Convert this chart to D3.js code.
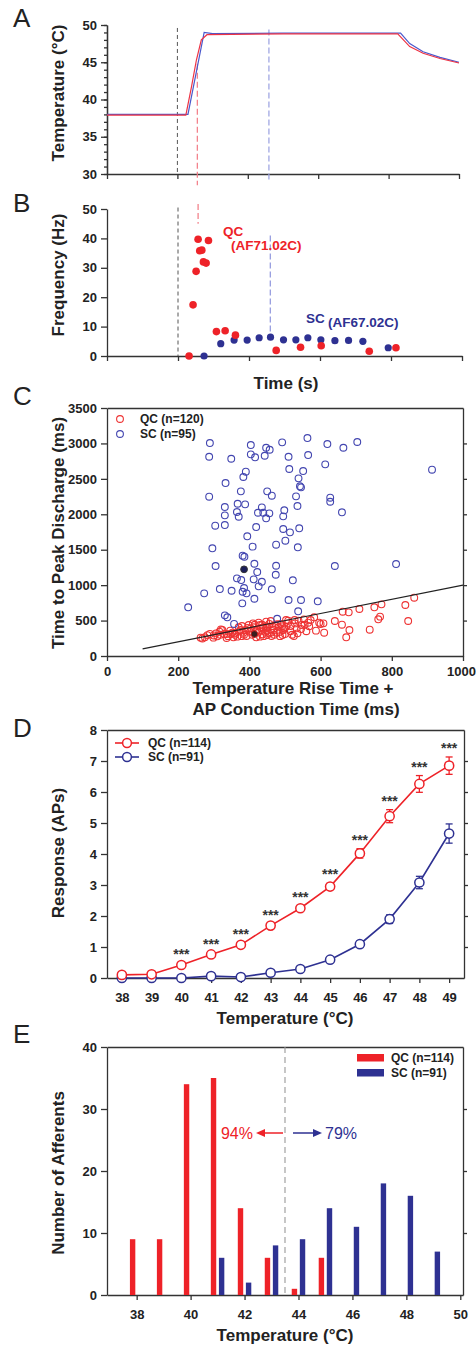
<!DOCTYPE html>
<html>
<head>
<meta charset="utf-8">
<script src="https://cdn.jsdelivr.net/npm/d3@7"></script>
<style>
body { margin: 0; background: #fff; }
svg { display: block; font-family: "Liberation Sans", Arial, sans-serif; }
.axis text { font-size: 13px; font-weight: bold; fill: #222; font-family: "Liberation Sans", Arial, sans-serif; }
.axis path, .axis line { stroke: #333; stroke-width: 1.3; }
.title { font-size: 17px; font-weight: bold; fill: #222; }
.letter { font-size: 26px; fill: #222; }
.leg { font-size: 12px; font-weight: bold; fill: #222; }
</style>
</head>
<body>
<script>
// ---- panel A: stimulus temperature traces (time in arbitrary units 0..5)
const traceTimeSC = [0, 1.15, 1.38, 1.5, 2.5, 3.5, 4.17, 4.3, 4.49, 4.73, 5];
const traceTempSC = [38, 38, 49, 48.85, 48.9, 48.9, 48.9, 47.5, 46.4, 45.65, 45];
const traceTimeQC = [0, 1.12, 1.2, 1.27, 1.34, 1.42, 2.5, 3.5, 4.13, 4.3, 4.49, 4.73, 5];
const traceTempQC = [37.9, 37.9, 41.7, 45.3, 48, 48.7, 48.8, 48.8, 48.8, 47.1, 46.2, 45.5, 44.9];
const onsetTime = 1.0, qcPeakTime = 1.283, scPeakTime = 2.3;

// ---- panel B: instantaneous frequency
const qcSpikeTime = [1.156, 1.212, 1.255, 1.283, 1.306, 1.335, 1.358, 1.396, 1.429, 1.541, 1.664, 1.809, 2.383, 2.726, 3.017, 3.694, 4.07];
const qcSpikeFreq = [0, 17.4, 28.8, 39.7, 35.8, 36.0, 32.0, 31.6, 39.3, 8.3, 8.6, 7.1, 1.9, 3.0, 3.5, 1.6, 2.8];
const scSpikeTime = [1.367, 1.602, 1.79, 1.974, 2.143, 2.303, 2.486, 2.66, 2.829, 3.012, 3.21, 3.402, 3.604, 3.961];
const scSpikeFreq = [0, 4.2, 5.4, 5.4, 6.2, 6.4, 5.5, 5.5, 6.2, 5.5, 5.2, 5.3, 5.0, 2.8];

// ---- panel C: time to peak discharge vs rise + conduction time (ms)
const scRise = [289, 287, 349, 404, 404, 416, 447, 457, 443, 492, 510, 563, 565, 619, 613, 512, 551, 390, 383, 538,
  542, 545, 333, 287, 376, 450, 463, 531, 535, 331, 367, 388, 435, 331, 365, 370, 424, 439, 447, 456,
  498, 495, 304, 331, 419, 495, 514, 540, 394, 501, 296, 409, 475, 536, 381, 386, 305, 414, 422, 475,
  474, 365, 377, 412, 435, 426, 317, 350, 385, 381, 392, 463, 522, 273, 414, 380, 510, 545, 592, 228,
  331, 338, 537, 478, 357, 640, 812, 664, 703, 913, 627, 627, 660];
const scPeak = [3005, 2812, 2784, 2977, 2846, 2804, 2939, 2911, 2826, 3015, 2812, 3076, 2836, 2991, 2705, 2639, 2610, 2601, 2526, 2507,
  2395, 2380, 2441, 2248, 2324, 2324, 2262, 2253, 2117, 2102, 2149, 2140, 2098, 1985, 2032, 1965, 2022, 2022, 1943, 2013,
  2056, 1971, 1839, 1848, 1820, 1792, 1745, 1802, 1689, 1627, 1520, 1543, 1571, 1534, 1416, 1400, 1270, 1302, 1185, 1274,
  1147, 1096, 1072, 1082, 1048, 983, 945, 921, 959, 907, 884, 941, 1068, 884, 808, 743, 790, 790, 772, 687,
  574, 546, 631, 526, 452, 1270, 1298, 2939, 3020, 2629, 2234, 2177, 2028];
const qcRise = [263, 275, 289, 299, 306, 310, 316, 320, 324, 329, 336, 336, 346, 347, 355, 359, 366, 370, 375, 379,
  383, 389, 392, 398, 402, 404, 412, 419, 422, 426, 430, 430, 437, 439, 445, 447, 450, 450, 456, 460,
  462, 469, 473, 477, 482, 488, 493, 495, 503, 503, 509, 516, 525, 527, 533, 538, 546, 553, 565, 572,
  582, 587, 596, 608, 610, 360, 372, 385, 395, 408, 415, 425, 432, 440, 448, 455, 465, 470, 478, 485,
  492, 500, 508, 515, 520, 528, 535, 545, 555, 560, 568, 300, 318, 340, 282, 268, 352, 410, 445, 462,
  498, 378, 418, 436, 486, 863, 838, 846, 771, 751, 709, 662, 679, 640, 660, 681, 672, 738, 767, 762, 600];
const qcPeak = [259, 264, 311, 259, 320, 278, 343, 376, 367, 311, 255, 311, 358, 311, 264, 320, 273, 405, 367, 423,
  329, 367, 282, 437, 343, 390, 405, 264, 367, 470, 437, 273, 306, 405, 343, 485, 405, 296, 452, 494,
  282, 367, 437, 329, 405, 452, 296, 367, 508, 414, 499, 423, 282, 508, 390, 499, 437, 517, 470, 508,
  546, 358, 470, 461, 329, 300, 345, 300, 395, 300, 440, 330, 395, 280, 360, 320, 420, 300, 450, 340,
  420, 310, 460, 350, 300, 460, 320, 380, 440, 350, 420, 290, 300, 280, 295, 248, 330, 460, 420, 330,
  390, 280, 350, 440, 280, 823, 720, 494, 729, 687, 663, 625, 616, 494, 442, 367, 264, 371, 555, 518, 452];
const qcExample = [414, 310];
const scExample = [385, 1223];
const fitX = [100, 1000];
const fitY = [100, 1000];

// ---- panel D: stimulus-response functions
const stepTemps = [38, 39, 40, 41, 42, 43, 44, 45, 46, 47, 48, 49];
const qcResp = [0.1, 0.12, 0.42, 0.76, 1.07, 1.69, 2.25, 2.95, 4.02, 5.22, 6.26, 6.85];
const qcSE = [0.03, 0.03, 0.05, 0.05, 0.06, 0.06, 0.08, 0.1, 0.15, 0.21, 0.27, 0.28];
const scResp = [0.0, 0.0, 0.0, 0.06, 0.03, 0.17, 0.29, 0.59, 1.09, 1.9, 3.08, 4.66];
const scSE = [0.01, 0.01, 0.01, 0.03, 0.02, 0.04, 0.05, 0.06, 0.1, 0.14, 0.2, 0.31];
const starTemps = [40, 41, 42, 43, 44, 45, 46, 47, 48, 49];

// ---- panel E: threshold histogram
const binTemps = [38, 39, 40, 41, 42, 43, 44, 45, 46, 47, 48, 49];
const qcCount = [9, 9, 34, 35, 14, 6, 1, 6, 0, 0, 0, 0];
const scCount = [0, 0, 0, 6, 2, 8, 9, 14, 11, 18, 16, 7];
const splitTemp = 43.5;

const red = "#ee2228", navy = "#2e3192", cBlue = "#4346b0";

const svg = d3.select("body").append("svg").attr("width", 476).attr("height", 1347);

const addAxis = (axis, tx, ty) =>
  svg.append("g").attr("class", "axis").attr("transform", `translate(${tx},${ty})`).call(axis);

const yTitle = (text, cy) =>
  svg.append("text").attr("class", "title").attr("text-anchor", "middle")
    .attr("transform", `translate(64,${cy}) rotate(-90)`).text(text);

const xTitle = (text, cx, y) =>
  svg.append("text").attr("class", "title").attr("text-anchor", "middle")
    .attr("x", cx).attr("y", y).text(text);

const letter = (t, y) => svg.append("text").attr("class", "letter").attr("x", 13).attr("y", y).text(t);

// ================= A =================
const xA = d3.scaleLinear().domain([0, 5]).range([107, 459]);
const yA = d3.scaleLinear().domain([30, 50]).range([174, 25]);
addAxis(d3.axisLeft(yA).tickValues(d3.range(30, 51)).tickSize(3).tickFormat("").tickSizeOuter(0), 107, 0);
addAxis(d3.axisLeft(yA).tickValues([30, 35, 40, 45, 50]).tickSize(6).tickPadding(4).tickSizeOuter(0), 107, 0);
addAxis(d3.axisBottom(xA).tickValues([0, 1, 2, 3, 4, 5]).tickSize(5).tickFormat("").tickSizeOuter(0), 0, 174);

svg.append("line").attr("x1", xA(onsetTime)).attr("x2", xA(onsetTime)).attr("y1", yA(49.6)).attr("y2", yA(30))
  .attr("stroke", "#555").attr("stroke-dasharray", "4,3").attr("stroke-width", 1);
svg.append("line").attr("x1", xA(qcPeakTime)).attr("x2", xA(qcPeakTime)).attr("y1", yA(44.8)).attr("y2", yA(28.5))
  .attr("stroke", "#f27a84").attr("stroke-dasharray", "6,3").attr("stroke-width", 1.2);
svg.append("line").attr("x1", xA(scPeakTime)).attr("x2", xA(scPeakTime)).attr("y1", yA(49.4)).attr("y2", yA(29.1))
  .attr("stroke", "#9aa0e0").attr("stroke-dasharray", "6,3").attr("stroke-width", 1.2);

const lineA = d3.line().x(d => xA(d[0])).y(d => yA(d[1]));
svg.append("path").datum(d3.zip(traceTimeSC, traceTempSC)).attr("d", lineA)
  .attr("fill", "none").attr("stroke", "#4a58cc").attr("stroke-width", 1.2);
svg.append("path").datum(d3.zip(traceTimeQC, traceTempQC)).attr("d", lineA)
  .attr("fill", "none").attr("stroke", "#ee3344").attr("stroke-width", 1.2);

yTitle("Temperature (\u00b0C)", 93);
letter("A", 27);

// ================= B =================
const xB = d3.scaleLinear().domain([0, 5]).range([107, 462]);
const yB = d3.scaleLinear().domain([0, 50]).range([356, 209]);
addAxis(d3.axisLeft(yB).tickValues([0, 10, 20, 30, 40, 50]).tickSize(6).tickPadding(4).tickSizeOuter(0), 107, 0);
addAxis(d3.axisBottom(xB).tickValues([0, 1, 2, 3, 4, 5]).tickSize(5).tickFormat("").tickSizeOuter(0), 0, 356);

svg.append("line").attr("x1", xB(onsetTime)).attr("x2", xB(onsetTime)).attr("y1", yB(50.5)).attr("y2", yB(0))
  .attr("stroke", "#555").attr("stroke-dasharray", "4,3").attr("stroke-width", 1);
svg.append("line").attr("x1", xB(qcPeakTime)).attr("x2", xB(qcPeakTime)).attr("y1", yB(51.7)).attr("y2", yB(45))
  .attr("stroke", "#f27a84").attr("stroke-dasharray", "6,3").attr("stroke-width", 1.2);
svg.append("line").attr("x1", xB(scPeakTime)).attr("x2", xB(scPeakTime)).attr("y1", yB(41)).attr("y2", yB(6.8))
  .attr("stroke", "#8f96dd").attr("stroke-dasharray", "6,3").attr("stroke-width", 1.2);

svg.append("g").selectAll("circle").data(d3.zip(scSpikeTime, scSpikeFreq)).join("circle")
  .attr("cx", d => xB(d[0])).attr("cy", d => yB(d[1])).attr("r", 3.6).attr("fill", navy);
svg.append("g").selectAll("circle").data(d3.zip(qcSpikeTime, qcSpikeFreq)).join("circle")
  .attr("cx", d => xB(d[0])).attr("cy", d => yB(d[1])).attr("r", 3.8).attr("fill", red);

const annB = [["QC", 223, 236, red], ["(AF71.02C)", 231, 250, red], ["SC", 306, 323, navy], ["(AF67.02C)", 328, 327, navy]];
svg.append("g").selectAll("text").data(annB).join("text")
  .attr("x", d => d[1]).attr("y", d => d[2]).attr("fill", d => d[3])
  .attr("font-size", 13.5).attr("font-weight", "bold").text(d => d[0]);

yTitle("Frequency (Hz)", 275);
xTitle("Time (s)", 286, 389);
letter("B", 212);

// ================= C =================
const xC = d3.scaleLinear().domain([0, 1000]).range([107, 463]);
const yC = d3.scaleLinear().domain([0, 3500]).range([656, 408]);
addAxis(d3.axisLeft(yC).tickValues(d3.range(0, 3501, 500)).tickFormat(d3.format("d"))
  .tickSize(6).tickPadding(4).tickSizeOuter(0), 107, 0);
addAxis(d3.axisBottom(xC).tickValues(d3.range(0, 1001, 200)).tickFormat(d3.format("d"))
  .tickSize(5).tickPadding(6).tickSizeOuter(0), 0, 656)
  .selectAll(".tick text").filter(d => d === 1000).attr("dx", -2);
addAxis(d3.axisRight(yC).tickValues(d3.range(500, 3001, 500)).tickSize(4).tickFormat("").tickSizeOuter(0), 463, 0);
addAxis(d3.axisTop(xC).tickValues([]).tickSizeOuter(0), 0, 408);

svg.append("g").selectAll("circle").data(d3.zip(qcRise, qcPeak)).join("circle")
  .attr("cx", d => xC(d[0])).attr("cy", d => yC(d[1])).attr("r", 3.4)
  .attr("fill", "none").attr("stroke", "#ee3333").attr("stroke-width", 1.1);
svg.append("g").selectAll("circle").data(d3.zip(scRise, scPeak)).join("circle")
  .attr("cx", d => xC(d[0])).attr("cy", d => yC(d[1])).attr("r", 3.4)
  .attr("fill", "none").attr("stroke", cBlue).attr("stroke-width", 1.1);
svg.append("circle").attr("cx", xC(qcExample[0])).attr("cy", yC(qcExample[1])).attr("r", 3.4)
  .attr("fill", "#3a2020").attr("stroke", "#cc2222").attr("stroke-width", 1);
svg.append("circle").attr("cx", xC(scExample[0])).attr("cy", yC(scExample[1])).attr("r", 3.4)
  .attr("fill", "#1c1f5a").attr("stroke", "#333").attr("stroke-width", 1);
svg.append("path").datum(d3.zip(fitX, fitY))
  .attr("d", d3.line().x(d => xC(d[0])).y(d => yC(d[1])))
  .attr("stroke", "#222").attr("stroke-width", 1.1).attr("fill", "none");

[["QC (n=120)", "#ee3333", 419], ["SC (n=95)", cBlue, 434]].forEach(([t, c, y]) => {
  svg.append("circle").attr("cx", 120).attr("cy", y).attr("r", 3.4).attr("fill", "none").attr("stroke", c).attr("stroke-width", 1.1);
  svg.append("text").attr("class", "leg").attr("x", 140).attr("y", y + 4).text(t);
});

yTitle("Time to Peak Discharge (ms)", 533);
xTitle("Temperature Rise Time +", 293, 694);
xTitle("AP Conduction Time (ms)", 296, 715);
letter("C", 405);

// ================= D =================
const xD = d3.scaleLinear().domain([37.5, 49.5]).range([107, 464]);
const yD = d3.scaleLinear().domain([0, 8]).range([978, 730]);
addAxis(d3.axisLeft(yD).tickValues(d3.range(0, 9)).tickSize(6).tickPadding(4).tickSizeOuter(0), 107, 0);
addAxis(d3.axisBottom(xD).tickValues(stepTemps).tickSize(5).tickPadding(10).tickSizeOuter(0), 0, 978);
addAxis(d3.axisRight(yD).tickValues(d3.range(1, 8)).tickSize(4).tickFormat("").tickSizeOuter(0), 464, 0);
addAxis(d3.axisTop(xD).tickValues([]).tickSizeOuter(0), 0, 730);

const drawSeries = (resp, se, color) => {
  const pts = stepTemps.map((t, i) => ({ t, v: resp[i], e: se[i] }));
  svg.append("path").datum(pts)
    .attr("d", d3.line().x(d => xD(d.t)).y(d => yD(d.v)))
    .attr("fill", "none").attr("stroke", color).attr("stroke-width", 1.6);
  const eb = svg.append("g").attr("stroke", color).attr("stroke-width", 1.3);
  eb.selectAll(".v").data(pts).join("line").attr("class", "v")
    .attr("x1", d => xD(d.t)).attr("x2", d => xD(d.t))
    .attr("y1", d => yD(d.v - d.e)).attr("y2", d => yD(d.v + d.e));
  eb.selectAll(".top").data(pts).join("line").attr("class", "top")
    .attr("x1", d => xD(d.t) - 3.5).attr("x2", d => xD(d.t) + 3.5)
    .attr("y1", d => yD(d.v + d.e)).attr("y2", d => yD(d.v + d.e));
  eb.selectAll(".bot").data(pts).join("line").attr("class", "bot")
    .attr("x1", d => xD(d.t) - 3.5).attr("x2", d => xD(d.t) + 3.5)
    .attr("y1", d => yD(d.v - d.e)).attr("y2", d => yD(d.v - d.e));
  svg.append("g").selectAll("circle").data(pts).join("circle")
    .attr("cx", d => xD(d.t)).attr("cy", d => yD(d.v)).attr("r", 4.6)
    .attr("fill", "#fff").attr("stroke", color).attr("stroke-width", 1.5);
};
drawSeries(scResp, scSE, navy);
drawSeries(qcResp, qcSE, red);

svg.append("g").selectAll("text").data(starTemps).join("text")
  .attr("x", d => xD(d))
  .attr("y", d => { const i = stepTemps.indexOf(d); return yD(qcResp[i] + qcSE[i]) - 4; })
  .attr("text-anchor", "middle").attr("font-size", 14).attr("font-weight", "bold").attr("fill", "#333")
  .text("***");

[["QC (n=114)", red, 743], ["SC (n=91)", navy, 757]].forEach(([t, c, y]) => {
  svg.append("line").attr("x1", 115).attr("x2", 139).attr("y1", y).attr("y2", y).attr("stroke", c).attr("stroke-width", 1.6);
  svg.append("circle").attr("cx", 127).attr("cy", y).attr("r", 4.4).attr("fill", "#fff").attr("stroke", c).attr("stroke-width", 1.5);
  svg.append("text").attr("class", "leg").attr("x", 148).attr("y", y + 4).text(t);
});

yTitle("Response (APs)", 853);
xTitle("Temperature (\u00b0C)", 285, 1024);
letter("D", 737);

// ================= E =================
const xE = d3.scaleLinear().domain([36.9, 50.1]).range([107, 463]);
const yE = d3.scaleLinear().domain([0, 40]).range([1295, 1047]);
addAxis(d3.axisLeft(yE).tickValues([0, 10, 20, 30, 40]).tickSize(6).tickPadding(4).tickSizeOuter(0), 107, 0);
addAxis(d3.axisBottom(xE).tickValues([38, 40, 42, 44, 46, 48, 50]).tickSize(5).tickPadding(10).tickSizeOuter(0), 0, 1295);
addAxis(d3.axisRight(yE).tickValues([10, 20, 30]).tickSize(4).tickFormat("").tickSizeOuter(0), 463, 0);
addAxis(d3.axisTop(xE).tickValues([]).tickSizeOuter(0), 0, 1047);

const barW = 5.4;
svg.append("g").selectAll("rect").data(d3.zip(binTemps, qcCount).filter(d => d[1] > 0)).join("rect")
  .attr("x", d => xE(d[0] - 0.15) - barW / 2).attr("width", barW)
  .attr("y", d => yE(d[1])).attr("height", d => yE(0) - yE(d[1])).attr("fill", red);
svg.append("g").selectAll("rect").data(d3.zip(binTemps, scCount).filter(d => d[1] > 0)).join("rect")
  .attr("x", d => xE(d[0] + 0.15) - barW / 2).attr("width", barW)
  .attr("y", d => yE(d[1])).attr("height", d => yE(0) - yE(d[1])).attr("fill", navy);

svg.append("line").attr("x1", xE(splitTemp)).attr("x2", xE(splitTemp)).attr("y1", yE(40)).attr("y2", yE(0))
  .attr("stroke", "#999").attr("stroke-dasharray", "6,4").attr("stroke-width", 1.1);

const ay = 1133, sx = xE(splitTemp);
svg.append("line").attr("x1", sx - 2).attr("x2", sx - 22).attr("y1", ay).attr("y2", ay).attr("stroke", red).attr("stroke-width", 1.5);
svg.append("path").attr("d", `M${sx - 29},${ay} L${sx - 20},${ay - 4} L${sx - 20},${ay + 4} Z`).attr("fill", red);
svg.append("line").attr("x1", sx + 8).attr("x2", sx + 30).attr("y1", ay).attr("y2", ay).attr("stroke", navy).attr("stroke-width", 1.5);
svg.append("path").attr("d", `M${sx + 37},${ay} L${sx + 28},${ay - 4} L${sx + 28},${ay + 4} Z`).attr("fill", navy);
svg.append("text").attr("x", sx - 32).attr("y", ay + 6).attr("text-anchor", "end").attr("font-size", 16).attr("fill", red).text("94%");
svg.append("text").attr("x", sx + 40).attr("y", ay + 6).attr("font-size", 16).attr("fill", navy).text("79%");

[["QC (n=114)", red, 1054], ["SC (n=91)", navy, 1069]].forEach(([t, c, y]) => {
  svg.append("rect").attr("x", 357).attr("y", y).attr("width", 27).attr("height", 7.5).attr("fill", c);
  svg.append("text").attr("class", "leg").attr("x", 391).attr("y", y + 8).text(t);
});

yTitle("Number of Afferents", 1173);
xTitle("Temperature (\u00b0C)", 285, 1341);
letter("E", 1043);
</script>
</body>
</html>
